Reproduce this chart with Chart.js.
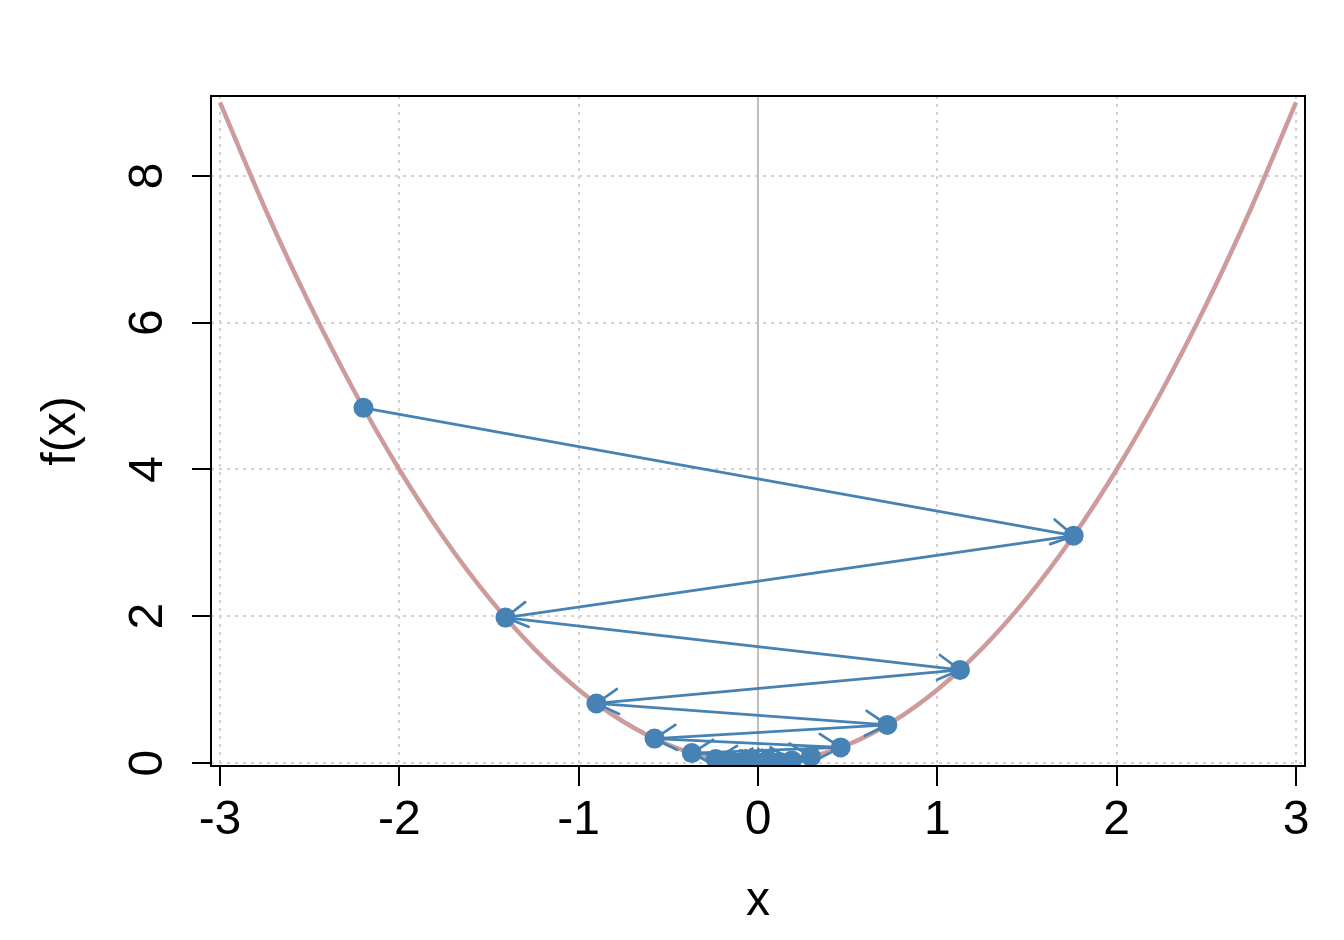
<!DOCTYPE html>
<html>
<head>
<meta charset="utf-8">
<title>Gradient descent on f(x)</title>
<script src="https://cdn.jsdelivr.net/npm/chart.js@4.4.1/dist/chart.umd.min.js"></script>
<style>
  html, body { margin:0; padding:0; background:#fff; }
  #wrap { width:1344px; height:940px; }
</style>
</head>
<body>
<div id="wrap"><canvas id="gdChart" width="1344" height="940"></canvas></div>
<script>
// ── DATA ──
const curveX = [-3,-2.75,-2.5,-2.25,-2,-1.75,-1.5,-1.25,-1,-0.75,-0.5,-0.25,0,0.25,0.5,0.75,1,1.25,1.5,1.75,2,2.25,2.5,2.75,3];
const curveY = [9,7.5625,6.25,5.0625,4,3.0625,2.25,1.5625,1,0.5625,0.25,0.0625,0,0.0625,0.25,0.5625,1,1.5625,2.25,3.0625,4,5.0625,6.25,7.5625,9];

const stepX = [-2.2,1.76,-1.408,1.126,-0.901,0.721,-0.577,0.461,-0.369,0.295,-0.236,0.189,-0.151,0.121,-0.097,0.077,-0.062,0.05,-0.04,0.032,-0.025,0.02];
const stepY = [4.84,3.098,1.982,1.269,0.812,0.52,0.333,0.213,0.136,0.087,0.056,0.036,0.023,0.015,0.009,0.006,0.004,0.0025,0.0016,0.001,0.0006,0.0004];

const xTicks = [-3,-2,-1,0,1,2,3];
const yTicks = [0,2,4,6,8];

const FONT = '"Liberation Sans", Arial, sans-serif';
const CURVE_COL = 'rgb(205,155,155)';
const STEP_COL = '#4682B4';

// ── PLUGINS ──
const zeroLine = {
  id:'zeroLine',
  beforeDatasetsDraw(chart) {
    const {ctx, chartArea:a, scales:{x}} = chart;
    const px = x.getPixelForValue(0);
    ctx.save();
    ctx.strokeStyle = '#BEBEBE'; ctx.lineWidth = 2;
    ctx.beginPath(); ctx.moveTo(px, a.top); ctx.lineTo(px, a.bottom); ctx.stroke();
    ctx.restore();
  }
};

// arrows from each step to the next, open heads, clipped to the plot box
const arrows = {
  id:'arrows',
  beforeDatasetDraw(chart, args) {
    if (args.index !== 0) return;
    const {ctx, chartArea:a, scales:{x, y}} = chart;
    const len = 25, ang = Math.PI / 6;
    ctx.save();
    ctx.beginPath(); ctx.rect(a.left, a.top, a.right - a.left, a.bottom - a.top); ctx.clip();
    ctx.strokeStyle = STEP_COL; ctx.lineWidth = 2.7; ctx.lineCap = 'round';
    for (let i = 0; i < stepX.length - 1; i++) {
      const x0 = x.getPixelForValue(stepX[i]),   y0 = y.getPixelForValue(stepY[i]);
      const x1 = x.getPixelForValue(stepX[i+1]), y1 = y.getPixelForValue(stepY[i+1]);
      const th = Math.atan2(y0 - y1, x0 - x1);
      ctx.beginPath();
      ctx.moveTo(x0, y0); ctx.lineTo(x1, y1);
      ctx.moveTo(x1 + len*Math.cos(th+ang), y1 + len*Math.sin(th+ang));
      ctx.lineTo(x1, y1);
      ctx.lineTo(x1 + len*Math.cos(th-ang), y1 + len*Math.sin(th-ang));
      ctx.stroke();
    }
    ctx.restore();
  }
};

const boxPlot = {
  id:'boxPlot',
  afterDraw(chart) {
    const {ctx, chartArea:a} = chart;
    ctx.save();
    ctx.strokeStyle = '#000'; ctx.lineWidth = 2;
    ctx.strokeRect(a.left, a.top, a.right - a.left, a.bottom - a.top);
    ctx.restore();
  }
};

// ── CHART ──
const gridOpts = (tl) => ({
  color:'#D3D3D3', lineWidth:2, drawTicks:true, tickLength:tl,
  tickColor:'#000', tickWidth:2, tickBorderDash:[]
});

new Chart(document.getElementById('gdChart'), {
  type:'scatter',
  data:{
    datasets:[
      {
        label:'steps',
        data: stepX.map((v,i)=>({x:v, y:stepY[i]})),
        backgroundColor:STEP_COL, borderColor:STEP_COL,
        pointRadius:10, pointBorderWidth:0, showLine:false
      },
      {
        label:'f(x)',
        data: curveX.map((v,i)=>({x:v, y:curveY[i]})),
        borderColor:CURVE_COL, borderWidth:4.5, pointRadius:0,
        showLine:true, cubicInterpolationMode:'monotone', fill:false
      }
    ]
  },
  options:{
    responsive:false, animation:false,
    layout:{padding:{top:96, right:39, left:0, bottom:0}},
    plugins:{legend:{display:false}, tooltip:{enabled:false}},
    scales:{
      x:{
        type:'linear', position:'bottom', min:-3.05, max:3.05,
        afterBuildTicks:s=>{ s.ticks = xTicks.map(v=>({value:v})); },
        afterFit:s=>{ s.height = 174; },
        ticks:{font:{family:FONT, size:48}, color:'#000', padding:6, maxRotation:0, autoSkip:false},
        grid:gridOpts(20),
        border:{display:false, dash:[3,5]},
        title:{display:true, text:'x', color:'#000', font:{family:FONT, size:48}, padding:{top:0, bottom:9}}
      },
      y:{
        type:'linear', position:'left', min:-0.04, max:9.088,
        afterBuildTicks:s=>{ s.ticks = yTicks.map(v=>({value:v})); },
        afterFit:s=>{ s.width = 211; },
        ticks:{font:{family:FONT, size:48}, color:'#000', padding:30, minRotation:90, maxRotation:90, crossAlign:'center', autoSkip:false},
        grid:gridOpts(19),
        border:{display:false, dash:[3,5]},
        title:{display:true, text:'f(x)', color:'#000', font:{family:FONT, size:48}, padding:{top:33, bottom:0}}
      }
    }
  },
  plugins:[zeroLine, arrows, boxPlot]
});
</script>
</body>
</html>
